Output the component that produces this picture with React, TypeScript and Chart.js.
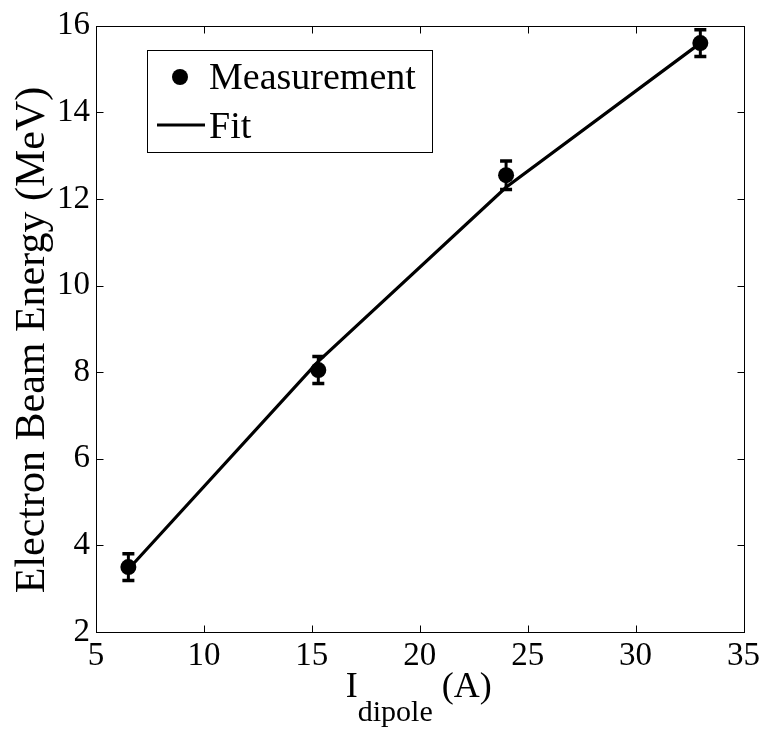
import React, { useEffect, useRef } from "react";
import { Chart, registerables } from "chart.js";

Chart.register(...registerables);

const currents = [6.5, 15.3, 24.0, 33.0];
const energies = [3.5, 8.05, 12.55, 15.6];
const energyErrors = [0.31, 0.31, 0.33, 0.31];
const fitEnergies = [3.45, 8.25, 12.27, 15.6];

const xTicks = [5, 10, 15, 20, 25, 30, 35];
const yTicks = [2, 4, 6, 8, 10, 12, 14, 16];

const yTitle = "Electron Beam Energy (MeV)";
const xTitleMain = "I";
const xTitleSub = "dipole";
const xTitleUnit = "(A)";
const legendLabels = ["Measurement", "Fit"];

const SERIF = "'Liberation Serif', 'Times New Roman', serif";

const decorPlugin = {
  id: "decor",
  afterDatasetsDraw(chart: any) {
    const { ctx, chartArea, scales } = chart;
    const xs = scales.x;
    const ys = scales.y;
    ctx.save();
    // error bars
    ctx.strokeStyle = "#000";
    ctx.lineWidth = 3;
    currents.forEach((c, i) => {
      const px = xs.getPixelForValue(c);
      const top = ys.getPixelForValue(energies[i] + energyErrors[i]);
      const bot = ys.getPixelForValue(energies[i] - energyErrors[i]);
      ctx.beginPath();
      ctx.moveTo(px, top);
      ctx.lineTo(px, bot);
      ctx.stroke();
      ctx.lineWidth = 3.5;
      ctx.beginPath();
      ctx.moveTo(px - 6, top);
      ctx.lineTo(px + 6, top);
      ctx.moveTo(px - 6, bot);
      ctx.lineTo(px + 6, bot);
      ctx.stroke();
      ctx.lineWidth = 3;
    });

    // box
    ctx.lineWidth = 1;
    ctx.strokeStyle = "#000";
    const L = Math.round(chartArea.left) + 0.5;
    const R = Math.round(chartArea.right) + 0.5;
    const T = Math.round(chartArea.top) + 0.5;
    const B = Math.round(chartArea.bottom) + 0.5;
    ctx.strokeRect(L, T, R - L, B - T);
    // inward ticks on all sides
    const tl = 7;
    ctx.beginPath();
    xTicks.forEach((v) => {
      const px = Math.round(xs.getPixelForValue(v)) + 0.5;
      ctx.moveTo(px, B);
      ctx.lineTo(px, B - tl);
      ctx.moveTo(px, T);
      ctx.lineTo(px, T + tl);
    });
    yTicks.forEach((v) => {
      const py = Math.round(ys.getPixelForValue(v)) + 0.5;
      ctx.moveTo(L, py);
      ctx.lineTo(L + tl, py);
      ctx.moveTo(R, py);
      ctx.lineTo(R - tl, py);
    });
    ctx.stroke();

    // legend
    const lx = 147.5, ly = 50.5, lw = 285, lh = 102;
    ctx.fillStyle = "#fff";
    ctx.fillRect(lx, ly, lw, lh);
    ctx.strokeRect(lx, ly, lw, lh);
    ctx.fillStyle = "#000";
    ctx.beginPath();
    ctx.arc(180, 77, 8, 0, Math.PI * 2);
    ctx.fill();
    ctx.lineWidth = 3;
    ctx.beginPath();
    ctx.moveTo(157, 125);
    ctx.lineTo(205, 125);
    ctx.stroke();
    ctx.font = `38px ${SERIF}`;
    ctx.textAlign = "left";
    ctx.textBaseline = "alphabetic";
    ctx.fillText(legendLabels[0], 209, 89);
    ctx.fillText(legendLabels[1], 209, 138);

    // x title
    ctx.font = `36px ${SERIF}`;
    const iW = ctx.measureText(xTitleMain).width;
    ctx.font = `30px ${SERIF}`;
    const subW = ctx.measureText(xTitleSub).width;
    ctx.font = `36px ${SERIF}`;
    const unitW = ctx.measureText(" " + xTitleUnit).width;
    const total = iW + subW + unitW;
    let x0 = (chartArea.left + chartArea.right) / 2 - total / 2 - 1;
    ctx.fillText(xTitleMain, x0, 697);
    x0 += iW;
    ctx.font = `30px ${SERIF}`;
    ctx.fillText(xTitleSub, x0, 721);
    x0 += subW;
    ctx.font = `36px ${SERIF}`;
    ctx.fillText(" " + xTitleUnit, x0, 697);

    // y title
    ctx.save();
    ctx.translate(44, 340);
    ctx.rotate(-Math.PI / 2);
    ctx.font = `42px ${SERIF}`;
    ctx.textAlign = "center";
    ctx.textBaseline = "alphabetic";
    ctx.fillText(yTitle, 0, 0);
    ctx.restore();

    ctx.restore();
  },
};

export default function App() {
  const ref = useRef<HTMLCanvasElement | null>(null);
  useEffect(() => {
    if (!ref.current) return;
    const chart = new Chart(ref.current, {
      type: "scatter",
      data: {
        datasets: [
          {
            label: legendLabels[0],
            data: currents.map((c, i) => ({ x: c, y: energies[i] })),
            backgroundColor: "#000",
            borderColor: "#000",
            pointRadius: 8,
            pointBorderWidth: 0,
            showLine: false,
          },
          {
            label: legendLabels[1],
            data: currents.map((c, i) => ({ x: c, y: fitEnergies[i] })),
            borderColor: "#000",
            backgroundColor: "#000",
            borderWidth: 3.2,
            pointRadius: 0,
            showLine: true,
          },
        ],
      },
      options: {
        responsive: false,
        animation: false,
        layout: { padding: { top: 24, right: 21, left: 0, bottom: 0 } },
        plugins: { legend: { display: false }, tooltip: { enabled: false } },
        scales: {
          x: {
            type: "linear",
            min: 5,
            max: 35,
            afterBuildTicks: (s: any) => {
              s.ticks = xTicks.map((v) => ({ value: v }));
            },
            afterFit: (s: any) => {
              s.height = 97;
            },
            grid: { display: false, drawTicks: false },
            border: { display: false },
            ticks: {
              color: "#000",
              font: { family: SERIF, size: 33 },
              padding: 5,
              maxRotation: 0,
            },
          },
          y: {
            type: "linear",
            min: 2,
            max: 16,
            afterBuildTicks: (s: any) => {
              s.ticks = yTicks.map((v) => ({ value: v }));
            },
            afterFit: (s: any) => {
              s.width = 96;
            },
            grid: { display: false, drawTicks: false },
            border: { display: false },
            ticks: {
              color: "#000",
              font: { family: SERIF, size: 33 },
              padding: 6,
            },
          },
        },
      },
      plugins: [decorPlugin],
    });
    return () => chart.destroy();
  }, []);
  return (
    <div style={{ position: "absolute", left: 0, top: 0, width: 765, height: 729, background: "#fff" }}>
      <canvas ref={ref} width={765} height={729} style={{ display: "block" }} />
    </div>
  );
}
